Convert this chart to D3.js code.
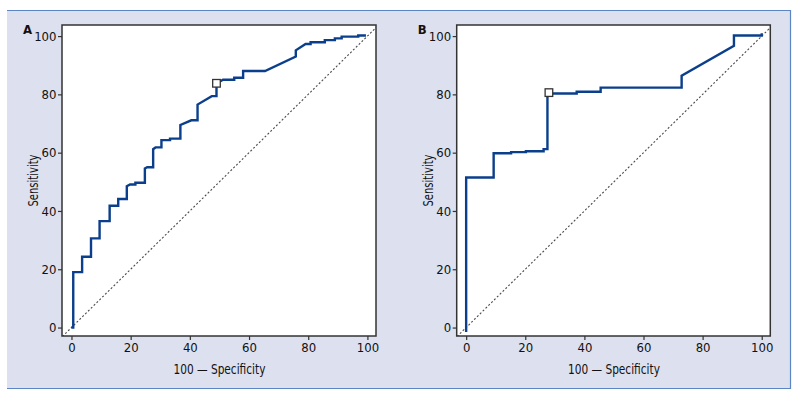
<!DOCTYPE html>
<html>
<head>
<meta charset="utf-8">
<script src="https://cdn.jsdelivr.net/npm/d3@7"></script>
<style>
  html, body { margin: 0; padding: 0; background: #ffffff; }
  svg { display: block; }
  text { font-family: "Liberation Sans Narrow", "DejaVu Sans Condensed", "Arial Narrow", sans-serif; fill: #111; }
</style>
</head>
<body>
<svg id="chart" width="800" height="403"></svg>
<script>
// ---------- data ----------
const xTicks = [0, 20, 40, 60, 80, 100];
const yTicks = [0, 20, 40, 60, 80, 100];
const xAxisTitle = "100 \u2014 Specificity";
const yAxisTitle = "Sensitivity";
const panelLabels = ["A", "B"];

// Panel A ROC curve vertices (100 - specificity, sensitivity)
const aFpr  = [0, 0.6, 0.6, 3.6, 3.6, 6.6, 6.6, 9.5, 9.5, 12.9, 12.9, 15.8, 15.8, 18.7, 18.7, 19.8, 21.6, 21.6, 24.8, 24.8, 25.6, 27.6, 27.6, 28.4, 30.4, 30.4, 33.3, 33.3, 36.8, 36.8, 40.5, 42.6, 42.6, 47.4, 49.0, 49.0,
               51.2, 55.0, 55.0, 58.0, 58.0, 65.4, 75.8, 75.8, 79.1, 80.8, 80.8, 85.6, 85.6, 89.0, 89.0, 91.3, 91.3, 96.9, 96.9, 99.5];
const aSens = [0, 0, 19.0, 19.0, 24.3, 24.3, 30.6, 30.6, 36.5, 36.5, 41.8, 41.8, 44.1, 44.1, 48.5, 49.1, 49.1, 49.7, 49.7, 54.6, 55.0, 55.0, 61.2, 61.8, 61.8, 64.3, 64.3, 64.8, 64.8, 69.5, 71.1, 71.1, 76.5, 79.4, 79.4, 83.7,
               85.0, 85.0, 85.7, 85.7, 88.0, 88.0, 93.0, 95.1, 97.3, 97.3, 97.9, 97.9, 98.6, 98.6, 99.2, 99.2, 99.8, 99.8, 100.2, 100.2];
const aCut = [49.0, 83.8];

// Panel B ROC curve vertices
const bFpr  = [0, 0, 9.3, 9.3, 15.2, 15.2, 20.2, 20.2, 26.2, 26.2, 27.5, 27.5, 37.4, 37.4, 45.5, 45.5, 72.9, 72.9, 90.6, 90.6, 100.0, 100.0];
const bSens = [-1.5, 51.5, 51.5, 59.8, 59.8, 60.2, 60.2, 60.5, 60.5, 61.2, 61.2, 80.3, 80.3, 80.9, 80.9, 82.3, 82.3, 86.4, 96.7, 100.2, 100.2, 101.0];
const bCut = [28.0, 80.6];

// ---------- drawing ----------
const svg = d3.select("#chart");
const bg = "#dde0ee";
const lineBlue = "#0b3f8c";
const frameColor = "#333333";

// outer panel
svg.append("rect").attr("x", 7).attr("y", 10).attr("width", 783).attr("height", 378).attr("fill", bg);
svg.append("line").attr("x1", 7).attr("x2", 790.5).attr("y1", 10.5).attr("y2", 10.5).attr("stroke", "#5b86c4").attr("stroke-width", 1.2);
svg.append("line").attr("x1", 7).attr("x2", 790.5).attr("y1", 388.5).attr("y2", 388.5).attr("stroke", "#5b86c4").attr("stroke-width", 1.2);
svg.append("line").attr("x1", 790.5).attr("x2", 790.5).attr("y1", 10).attr("y2", 389).attr("stroke", "#5b86c4").attr("stroke-width", 1.2);

const panels = [
  { label: panelLabels[0], fpr: aFpr, sens: aSens, cut: aCut, x0: 62, x1: 376 },
  { label: panelLabels[1], fpr: bFpr, sens: bSens, cut: bCut, x0: 456.7, x1: 770.3 }
];
const yTop = 25, yBot = 336;
const xDomain = [-3.2, 102.9];
const yDomain = [-2.9, 103.8];

panels.forEach((p, i) => {
  const x = d3.scaleLinear().domain(xDomain).range([p.x0, p.x1]);
  const y = d3.scaleLinear().domain(yDomain).range([yBot, yTop]);
  const g = svg.append("g");

  const clipId = "clip" + i;
  svg.append("clipPath").attr("id", clipId).append("rect")
    .attr("x", p.x0).attr("y", yTop).attr("width", p.x1 - p.x0).attr("height", yBot - yTop);

  // plot area
  g.append("rect").attr("x", p.x0).attr("y", yTop).attr("width", p.x1 - p.x0).attr("height", yBot - yTop)
    .attr("fill", "#ffffff");

  // diagonal reference
  const diag = [[-5, -5], [110, 110]];
  g.append("path").datum(diag)
    .attr("clip-path", `url(#${clipId})`)
    .attr("d", d3.line().x(d => x(d[0])).y(d => y(d[1])))
    .attr("stroke", "#4a4a4a").attr("stroke-width", 1.1).attr("stroke-dasharray", "2,2").attr("fill", "none");

  // ROC curve
  const pts = p.fpr.map((v, k) => [v, p.sens[k]]);
  g.append("path").datum(pts)
    .attr("d", d3.line().x(d => x(d[0])).y(d => y(d[1])))
    .attr("stroke", lineBlue).attr("stroke-width", 2.4).attr("fill", "none")
    .attr("stroke-linejoin", "miter");

  // cut-off marker
  g.append("rect")
    .attr("x", x(p.cut[0]) - 3.8).attr("y", y(p.cut[1]) - 3.8)
    .attr("width", 7.6).attr("height", 7.6)
    .attr("fill", "#ffffff").attr("stroke", "#333").attr("stroke-width", 1.3);

  // frame
  g.append("rect").attr("x", p.x0).attr("y", yTop).attr("width", p.x1 - p.x0).attr("height", yBot - yTop)
    .attr("fill", "none").attr("stroke", frameColor).attr("stroke-width", 1.5);

  // axes
  const xa = g.append("g").attr("transform", `translate(0,${yBot})`)
    .call(d3.axisBottom(x).tickValues(xTicks).tickSize(4).tickPadding(3));
  const ya = g.append("g").attr("transform", `translate(${p.x0},0)`)
    .call(d3.axisLeft(y).tickValues(yTicks).tickSize(4).tickPadding(1.5));
  [xa, ya].forEach(a => {
    a.select(".domain").remove();
    a.selectAll(".tick line").attr("stroke", frameColor).attr("stroke-width", 1.2);
    a.selectAll(".tick text").attr("font-size", 13).attr("fill", "#111")
      .style("font-family", '"Liberation Sans Narrow", "DejaVu Sans Condensed", sans-serif');
  });

  // axis titles
  g.append("text").attr("x", (x(0) + x(100)) / 2).attr("y", 374)
    .attr("text-anchor", "middle").attr("font-size", 14)
    .attr("textLength", 92).attr("lengthAdjust", "spacingAndGlyphs").text(xAxisTitle);
  g.append("text")
    .attr("transform", `translate(${p.x0 - 24},${(yTop + yBot) / 2}) rotate(-90)`)
    .attr("text-anchor", "middle").attr("font-size", 14)
    .attr("textLength", 52).attr("lengthAdjust", "spacingAndGlyphs").text(yAxisTitle);

  // panel label
  g.append("text").attr("x", p.x0 - 39).attr("y", 34)
    .attr("font-size", 13).attr("font-weight", "bold").text(p.label);
});
</script>
</body>
</html>
